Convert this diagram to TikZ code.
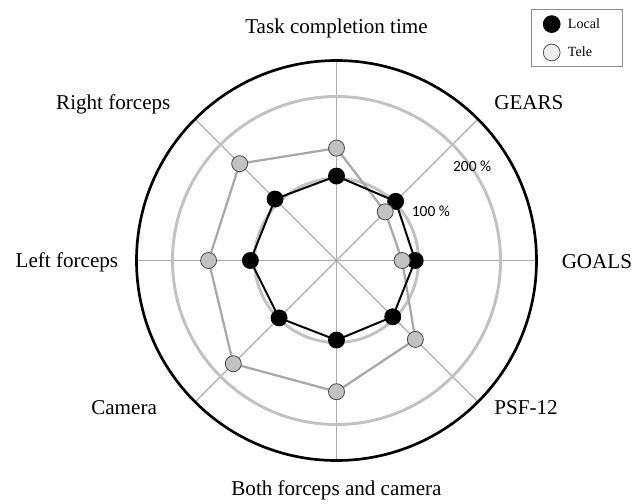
\documentclass[tikz,border=0pt]{standalone}
\usepackage{fontspec}
\setmainfont{Liberation Serif}
\newfontfamily\pctfont{Carlito}
\definecolor{ringgray}{gray}{0.76}
\definecolor{spokegray}{gray}{0.68}
\definecolor{telefill}{gray}{0.76}
\definecolor{teleline}{gray}{0.66}
\definecolor{keyfill}{gray}{0.93}
\tikzset{
  axislabel/.style={font=\fontsize{15}{18}\selectfont},
  pctlabel/.style={font=\pctfont\fontsize{11}{13}\selectfont},
  localdot/.style={circle, fill=black, draw=black, line width=0.6pt, minimum size=0.4cm, inner sep=0pt},
  teledot/.style={circle, fill=telefill, draw=black!70, line width=0.6pt, minimum size=0.4cm, inner sep=0pt},
}
\begin{document}
\begin{tikzpicture}
  \useasboundingbox (-8.4125,-6.0625) rectangle (7.6375,6.5125);

  % Spokes and rings
  \foreach \a in {0,45,...,315} {
      \draw[spokegray, line width=0.9pt] (0,0) -- (\a:5);
    }
  \draw[ringgray, line width=2.1pt] (0,0) circle (2.05);
  \draw[ringgray, line width=2.1pt] (0,0) circle (4.1);
  \draw[black, line width=1.9pt] (0,0) circle (5);

  % Scale labels
  \node[pctlabel] (p100) at (2.36,1.24) {100 \%};
  \node[pctlabel] (p200) at (3.39,2.36) {200 \%};

  % Axis labels
  \node[axislabel] (time) at (0,5.81) {Task completion time};
  \node[axislabel] (gears) at (4.81,3.94) {GEARS};
  \node[axislabel] (goals) at (6.51,-0.04) {GOALS};
  \node[axislabel] (psf) at (4.74,-3.69) {PSF-12};
  \node[axislabel] (both) at (0,-5.74) {Both forceps and camera};
  \node[axislabel] (camera) at (-5.31,-3.69) {Camera};
  \node[axislabel] (left) at (-6.74,-0.04) {Left forceps};
  \node[axislabel] (right) at (-5.58,3.91) {Right forceps};

  % Data points (1 = 100 %)
  \foreach \i/\v in {0/1.03, 1/1.02, 2/0.96, 3/0.97, 4/0.97, 5/0.99, 6/1.05, 7/1.06} {
      \coordinate (l\i) at ({90-45*\i}:{2.05*\v});
    }
  \foreach \i/\v in {0/1.37, 1/0.84, 2/0.80, 3/1.36, 4/1.60, 5/1.78, 6/1.56, 7/1.67} {
      \coordinate (t\i) at ({90-45*\i}:{2.05*\v});
    }

  % Polygons
  \draw[teleline, line width=1.6pt] (t0) -- (t1) -- (t2) -- (t3) -- (t4) -- (t5) -- (t6) -- (t7) -- cycle;
  \draw[black, line width=1.4pt] (l0) -- (l1) -- (l2) -- (l3) -- (l4) -- (l5) -- (l6) -- (l7) -- cycle;

  % Markers
  \foreach \i in {0,...,7} {
      \node[localdot] (ld\i) at (l\i) {};
    }
  \foreach \i in {0,...,7} {
      \node[teledot] (td\i) at (t\i) {};
    }

  % Legend
  \node[draw=black!45, line width=0.6pt, minimum width=2.275cm, minimum height=1.435cm, inner sep=0pt] (key) at (6.0175,5.5625) {};
  \node[localdot, minimum size=0.42cm] (keyl) at (5.38,5.91) {};
  \node[teledot, fill=keyfill, draw=black!65, minimum size=0.42cm] (keyt) at (5.38,5.20) {};
  \node[right, font=\fontsize{10}{12}\selectfont, inner sep=0pt] (keyltext) at (5.78,5.93) {Local};
  \node[right, font=\fontsize{10}{12}\selectfont, inner sep=0pt] (keyttext) at (5.78,5.21) {Tele};
\end{tikzpicture}
\end{document}
